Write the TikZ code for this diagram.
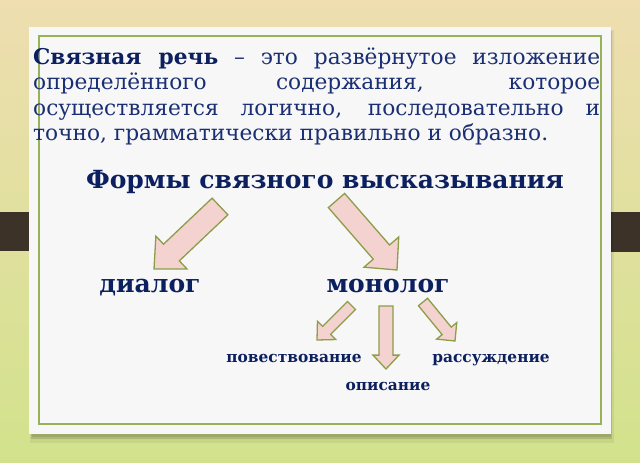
\documentclass[tikz,border=0pt]{standalone}
\usepackage{fontspec}
\setmainfont{DejaVu Serif}
\usetikzlibrary{calc}
\definecolor{bgtop}{RGB}{238,222,176}
\definecolor{bgbot}{RGB}{210,226,140}
\definecolor{navy}{RGB}{26,46,115}
\definecolor{navyb}{RGB}{12,32,96}
\definecolor{olive}{RGB}{140,158,72}
\definecolor{framec}{RGB}{152,178,90}
\definecolor{pinkf}{RGB}{243,210,208}
\definecolor{tabc}{RGB}{60,50,40}
\definecolor{cardc}{RGB}{247,247,247}
\newcommand\blkarrow[5]{%
  \path ($(#1)!#5!(#2)$) coordinate (bb);
  \draw[blockarrow] ($(#1)!#3!90:(#2)$) -- ($(bb)!#3!90:(#2)$) -- ($(bb)!#4!90:(#2)$) -- (#2)
    -- ($(bb)!#4!-90:(#2)$) -- ($(bb)!#3!-90:(#2)$) -- ($(#1)!#3!-90:(#2)$) -- cycle;}
\begin{document}
\begin{tikzpicture}[x=1pt,y=-1pt,
  blockarrow/.style={fill=pinkf,draw=olive,line width=1.3pt,line join=miter},
  bigword/.style={font=\fontsize{25}{29}\selectfont\bfseries,text=navyb,inner sep=0,anchor=base},
  smallword/.style={font=\fontsize{15.4}{18}\selectfont\bfseries,text=navyb,inner sep=0,anchor=base},
  tab/.style={fill=tabc}]
% background
\shade[top color=bgtop,bottom color=bgbot] (0,0) rectangle (640,463);
\useasboundingbox (0,0) rectangle (640,463);
% tabs
\fill[tab] (0,212) rectangle (46,251);
\fill[tab] (44,209) rectangle (47,254);
\fill[tab] (594,212) rectangle (640,252);
\fill[tab] (592,209) rectangle (595,254);
% card shadow
\fill[black,opacity=0.06] (30,30) rectangle (614,443);
\fill[black,opacity=0.12] (31,31) rectangle (612,439);
\fill[black,opacity=0.10] (32,32) rectangle (611,437);
% card
\fill[cardc] (29,27) rectangle (611,434);
\draw[framec,line width=1.5pt] (39,36) rectangle (601,424);
% text
\node[anchor=base west,inner sep=0,text width=567pt,align=justify,
  font=\fontsize{21.7}{25.5}\selectfont,text=navy] (def) at (33,64)
  {\hyphenpenalty=10000 {\bfseries\color{navyb}Связная речь} – это развёрнутое изложение\linebreak
   определённого содержания, которое\linebreak
   осуществляется логично, последовательно и\linebreak
   точно, грамматически правильно и образно.};
\node[bigword] (forms) at (325,188) {Формы связного высказывания};
\node[bigword] (dialog) at (150,292) {диалог};
\node[bigword] (monolog) at (388,292) {монолог};
\node[smallword] (narr) at (294,362) {повествование};
\node[smallword] (reas) at (491,362) {рассуждение};
\node[smallword] (descr) at (388,390) {описание};
% arrows
\coordinate (a1t) at (220,206.5); \coordinate (a1h) at (154,269);
\coordinate (a2t) at (336.5,200.5); \coordinate (a2h) at (397,270);
\coordinate (a3t) at (351.5,305.5); \coordinate (a3h) at (317,340);
\coordinate (a4t) at (386,306); \coordinate (a4h) at (386,369);
\coordinate (a5t) at (423,302); \coordinate (a5h) at (455,341);
\blkarrow{a1t}{a1h}{11.5pt}{22.6pt}{0.736}
\blkarrow{a2t}{a2h}{10.8pt}{23pt}{0.742}
\blkarrow{a3t}{a3h}{5.7pt}{13pt}{0.72}
\blkarrow{a4t}{a4h}{7pt}{13pt}{0.78}
\blkarrow{a5t}{a5h}{5.9pt}{13pt}{0.74}
\end{tikzpicture}
\end{document}
